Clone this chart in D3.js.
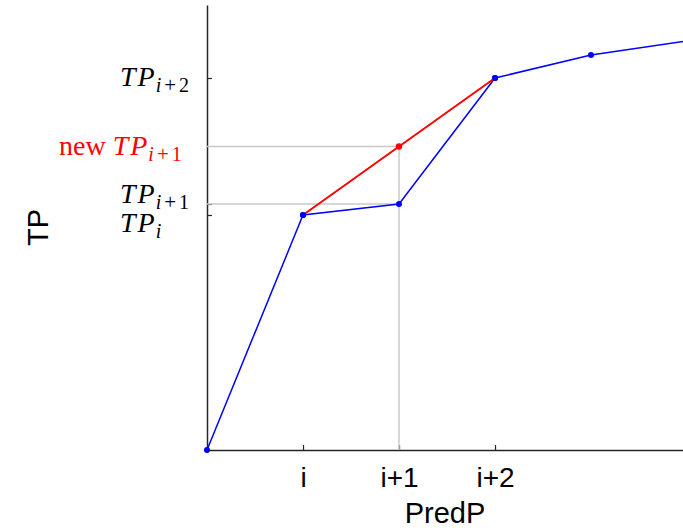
<!DOCTYPE html>
<html>
<head>
<meta charset="utf-8">
<script src="https://cdn.jsdelivr.net/npm/d3@7"></script>
<style>
  html, body { margin: 0; padding: 0; background: #fff; }
  svg { display: block; }
</style>
</head>
<body>
<svg id="chart" width="683" height="531"></svg>
<script>
// Cumulative TP against predicted positives
const predP = [0, 1, 2, 3, 4, 5];
const tpValues = [0, 4.7, 4.92, 7.44, 7.9, 8.18];
// Interpolated replacement for point i+1 (midpoint of TP_i and TP_{i+2})
const newPredP = [1, 2, 3];
const newTp = [4.7, 6.07, 7.44];
const xTickValues = [1, 2, 3];
const xTickLabels = ["i", "i+1", "i+2"];
const yTickValues = [4.7, 4.92, 7.44];

(function () {
const svg = d3.select("#chart");
const plotLeft = 207, plotRight = 683, plotTop = 5, plotBottom = 450;

const x = d3.scaleLinear().domain([0, 4.958]).range([plotLeft, plotRight]);
const y = d3.scaleLinear().domain([0, 8.9]).range([plotBottom, plotTop]);

svg.append("clipPath").attr("id", "plot-clip")
  .append("rect").attr("x", plotLeft - 6).attr("y", 0)
  .attr("width", plotRight - plotLeft + 6).attr("height", plotBottom + 6);

// Axes (ticks point into the plot)
const xAxis = svg.append("g").attr("transform", `translate(0,${plotBottom})`)
  .call(d3.axisBottom(x).tickValues(xTickValues)
    .tickFormat((d, i) => xTickLabels[i]).tickSizeInner(-5).tickSizeOuter(0).tickPadding(17));
xAxis.select(".domain").attr("stroke", "#262626").attr("stroke-width", 1.5);
xAxis.selectAll(".tick line").attr("stroke", "#262626").attr("stroke-width", 1.2);
xAxis.selectAll(".tick text").attr("font-family", "Liberation Sans, Arial, sans-serif")
  .attr("font-size", 28).attr("fill", "#000");

const yAxis = svg.append("g").attr("transform", `translate(${plotLeft},0)`)
  .call(d3.axisLeft(y).tickValues(yTickValues).tickFormat("").tickSizeInner(-5).tickSizeOuter(0));
yAxis.select(".domain").attr("stroke", "#262626").attr("stroke-width", 1.5);
yAxis.selectAll(".tick line").attr("stroke", "#262626").attr("stroke-width", 1.2);

// Axis titles, centred on their axes
svg.append("text").attr("x", (plotLeft + plotRight) / 2).attr("y", 523).attr("text-anchor", "middle")
  .attr("font-family", "Liberation Sans, Arial, sans-serif").attr("font-size", 29).text("PredP");
svg.append("text").attr("transform", `translate(48,${(plotTop + plotBottom) / 2}) rotate(-90)`)
  .attr("text-anchor", "middle")
  .attr("font-family", "Liberation Sans, Arial, sans-serif").attr("font-size", 29).text("TP");

// Guide lines to the new point and to the old TP_{i+1}
const guide = svg.append("g").attr("stroke", "#c8c8c8").attr("stroke-width", 1.5).attr("fill", "none");
guide.append("line").attr("x1", plotLeft).attr("x2", x(newPredP[1])).attr("y1", y(newTp[1])).attr("y2", y(newTp[1]));
guide.append("line").attr("x1", plotLeft).attr("x2", x(predP[2])).attr("y1", y(tpValues[2])).attr("y2", y(tpValues[2]));
guide.append("line").attr("x1", x(newPredP[1])).attr("x2", x(newPredP[1])).attr("y1", y(newTp[1])).attr("y2", plotBottom);

const line = d3.line().x(d => x(d[0])).y(d => y(d[1]));
const plot = svg.append("g").attr("clip-path", "url(#plot-clip)");

const blue = predP.map((p, i) => [p, tpValues[i]]);
const red = newPredP.map((p, i) => [p, newTp[i]]);

plot.append("path").datum(blue).attr("d", line).attr("fill", "none")
  .attr("stroke", "#0000ff").attr("stroke-width", 1.5);
plot.selectAll("circle.blue").data(blue).join("circle").attr("class", "blue")
  .attr("cx", d => x(d[0])).attr("cy", d => y(d[1])).attr("r", 3).attr("fill", "#0000ff");

plot.append("path").datum(red).attr("d", line).attr("fill", "none")
  .attr("stroke", "#ff0000").attr("stroke-width", 2);
plot.append("circle").attr("cx", x(red[1][0])).attr("cy", y(red[1][1])).attr("r", 3.2).attr("fill", "#ff0000");
// Endpoints of the red segment sit on blue points
plot.selectAll("circle.blueTop").data([blue[1], blue[3]]).join("circle").attr("class", "blueTop")
  .attr("cx", d => x(d[0])).attr("cy", d => y(d[1])).attr("r", 3).attr("fill", "#0000ff");

// Math-style y labels
const serif = "Liberation Serif, Times New Roman, serif";
function mathLabel(xPos, baseline, sub, color, prefix) {
  const t = svg.append("text").attr("x", xPos).attr("y", baseline)
    .attr("font-family", serif).attr("font-size", 28).attr("fill", color);
  if (prefix) {
    t.append("tspan").attr("font-style", "normal").text(prefix);
  }
  t.append("tspan").attr("font-style", "italic").attr("letter-spacing", 2).text("TP");
  const parts = sub.split("+");
  t.append("tspan").attr("font-style", "italic").attr("font-size", 20).attr("dy", 6).attr("dx", -1).text(parts[0]);
  if (parts.length > 1) {
    t.append("tspan").attr("font-size", 21).attr("dx", 3).text("+");
    t.append("tspan").attr("font-size", 20).attr("dx", 3).text(parts[1]);
  }
  return t;
}
mathLabel(120, 86, "i+2", "#000");
mathLabel(59, 155, "i+1", "#ff0000", "new ");
mathLabel(120, 203, "i+1", "#000");
mathLabel(120, 232, "i", "#000");
})();
</script>
</body>
</html>
